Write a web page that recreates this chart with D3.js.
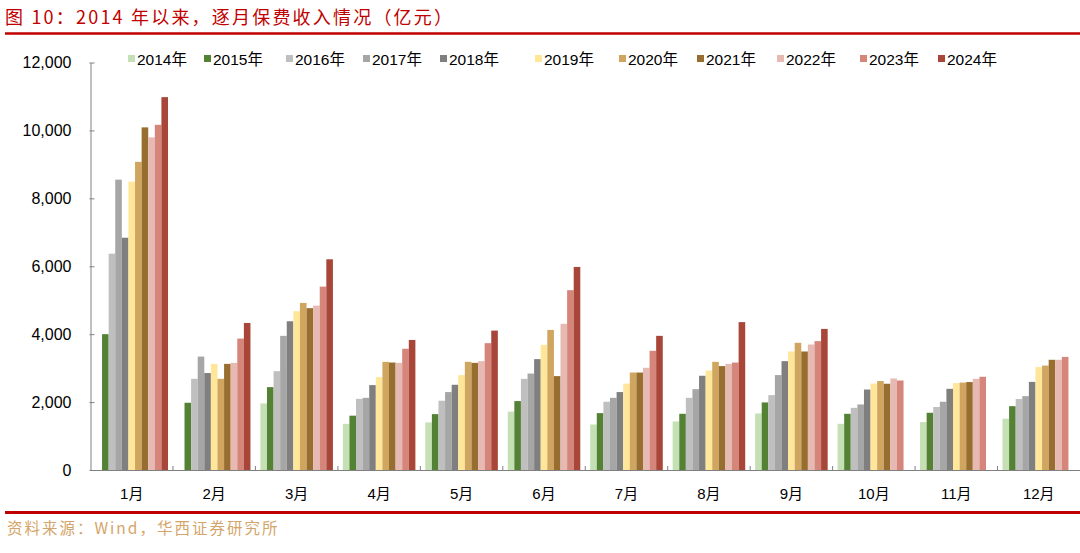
<!DOCTYPE html>
<html>
<head>
<meta charset="utf-8">
<script src="https://cdn.jsdelivr.net/npm/d3@7"></script>
<style>
  body { margin: 0; background: #fff; }
  svg { display: block; }
</style>
</head>
<body>
<svg id="chart" width="1080" height="553"></svg>
<script>
// months on the x axis
const months = ['1月', '2月', '3月', '4月', '5月', '6月', '7月', '8月', '9月', '10月', '11月', '12月'];
const years = ['2014年', '2015年', '2016年', '2017年', '2018年', '2019年', '2020年', '2021年', '2022年', '2023年', '2024年'];
const yTicks = [0, 2000, 4000, 6000, 8000, 10000, 12000];

// monthly premium income by year (亿元), null = no data
const v2014 = [null, null, 1960, 1360, 1400, 1720, 1340, 1430, 1665, 1360, 1410, 1510];
const v2015 = [4000, 1980, 2440, 1600, 1645, 2030, 1675, 1655, 1990, 1655, 1685, 1880];
const v2016 = [6370, 2685, 2910, 2095, 2040, 2685, 2010, 2125, 2205, 1830, 1855, 2090];
const v2017 = [8550, 3340, 3950, 2125, 2295, 2840, 2125, 2380, 2795, 1930, 2010, 2175];
const v2018 = [6840, 2855, 4380, 2500, 2510, 3265, 2295, 2775, 3205, 2370, 2390, 2595];
const v2019 = [8490, 3125, 4675, 2735, 2795, 3685, 2545, 2930, 3490, 2545, 2560, 3030];
const v2020 = [9075, 2685, 4920, 3185, 3185, 4125, 2870, 3185, 3745, 2620, 2575, 3075];
const v2021 = [10090, 3125, 4765, 3165, 3155, 2765, 2870, 3060, 3490, 2540, 2590, 3245];
const v2022 = [9795, 3155, 4840, 3155, 3205, 4305, 3010, 3125, 3695, 2695, 2685, 3245];
const v2023 = [10165, 3870, 5400, 3570, 3735, 5295, 3510, 3165, 3795, 2635, 2745, 3330];
const v2024 = [10980, 4330, 6205, 3830, 4105, 5980, 3950, 4355, 4155, null, null, null];

const colors = ['#C5E0B4', '#548235', '#BFBFBF', '#A6A6A6', '#7F7F7F', '#FFE699',
  '#CFA560', '#976E2F', '#E7B9B3', '#D5857A', '#A84739'];

const series = [v2014, v2015, v2016, v2017, v2018, v2019, v2020, v2021, v2022, v2023, v2024]
  .map((values, i) => ({year: years[i], color: colors[i], values}));

const svg = d3.select('#chart');
const font = 'Arial, "Liberation Sans", "Noto Sans CJK SC", sans-serif';
const cjk = '"Noto Sans CJK SC", sans-serif';

const plotLeft = 90.5;
const plotRight = 1080;

const x0 = d3.scaleBand()
  .domain(months)
  .range([plotLeft, plotRight])
  .paddingInner(0.12)
  .paddingOuter(0.06);

const x1 = d3.scaleBand()
  .domain(years)
  .range([0, x0.bandwidth()]);

const y = d3.scaleLinear()
  .domain([0, 12000])
  .range([470, 62.5]);

// title + red rules
svg.append('text')
  .attr('x', 5)
  .attr('y', 24)
  .style('font-family', cjk)
  .style('font-size', '18px')
  .style('letter-spacing', '2.2px')
  .style('fill', '#C00000')
  .text('图 10：2014 年以来，逐月保费收入情况（亿元）');

svg.append('line')
  .attr('x1', 5).attr('x2', 1080)
  .attr('y1', 33.5).attr('y2', 33.5)
  .style('stroke', '#C00000')
  .style('stroke-width', 2.5);

svg.append('line')
  .attr('x1', 5).attr('x2', 1080)
  .attr('y1', 512.5).attr('y2', 512.5)
  .style('stroke', '#C00000')
  .style('stroke-width', 3);

svg.append('text')
  .attr('x', 7)
  .attr('y', 534)
  .style('font-family', cjk)
  .style('font-size', '15.5px')
  .style('fill', '#D4A56A')
  .style('letter-spacing', '2px')
  .text('资料来源：Wind，华西证券研究所');

// bars
const groups = svg.append('g')
  .selectAll('g')
  .data(series)
  .join('g')
  .attr('fill', d => d.color);

groups.selectAll('rect')
  .data(d => d.values.map((v, i) => ({month: months[i], year: d.year, value: v})).filter(p => p.value != null))
  .join('rect')
  .attr('x', d => x0(d.month) + x1(d.year))
  .attr('width', x1.bandwidth())
  .attr('y', d => y(d.value))
  .attr('height', d => y(0) - y(d.value));

// y axis
const yAxis = d3.axisLeft(y)
  .tickValues(yTicks)
  .tickSize(0)
  .tickPadding(19)
  .tickFormat(d3.format(','));

const gy = svg.append('g')
  .attr('transform', `translate(${plotLeft}, 0)`)
  .call(yAxis);

gy.select('.domain').style('stroke', '#808080');
gy.selectAll('text')
  .style('font-family', font)
  .style('font-size', '16px')
  .style('fill', '#000');

gy.selectAll('.tick').append('line')
  .attr('x1', -1).attr('x2', 4)
  .style('stroke', '#808080');

// x axis
const xAxis = d3.axisBottom(x0)
  .tickSize(0)
  .tickPadding(18);

const gx = svg.append('g')
  .attr('transform', `translate(0, ${y(0)})`)
  .call(xAxis);

gx.select('.domain').style('stroke', '#808080');
gx.selectAll('text')
  .style('font-family', font)
  .style('font-size', '15px')
  .style('fill', '#000');

// small separators between months
gx.selectAll('line.sep')
  .data(months.slice(1))
  .join('line')
  .attr('class', 'sep')
  .attr('x1', d => x0(d) - x0.step() * x0.paddingInner() / 2)
  .attr('x2', d => x0(d) - x0.step() * x0.paddingInner() / 2)
  .attr('y1', 0).attr('y2', -4)
  .style('stroke', '#808080');

// legend
const legendX = [128, 204, 286, 363, 440, 535, 619, 697, 777, 860, 938];
const legend = svg.append('g')
  .selectAll('g')
  .data(series)
  .join('g')
  .attr('transform', (d, i) => `translate(${legendX[i]}, 55)`);

legend.append('rect')
  .attr('width', 7)
  .attr('height', 7)
  .attr('fill', d => d.color);

legend.append('text')
  .attr('x', 9)
  .attr('y', 9.5)
  .style('font-family', font)
  .style('font-size', '15.5px')
  .style('fill', '#000')
  .text(d => d.year);
</script>
</body>
</html>
